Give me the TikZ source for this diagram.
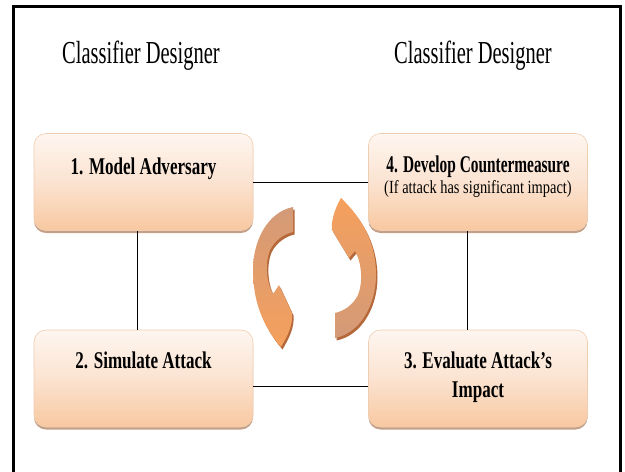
\documentclass[tikz,border=0pt]{standalone}
\usepackage{fontspec}
\setmainfont{Liberation Serif}

\definecolor{boxtop}{HTML}{FEF6F0}
\definecolor{boxmid}{HTML}{FBE3D1}
\definecolor{boxbot}{HTML}{F8C8A0}
\definecolor{boxline}{HTML}{EFCDB0}
\definecolor{boxshadow}{HTML}{C4A088}
\definecolor{arrowback}{HTML}{D39A78}
\definecolor{arrowfront}{HTML}{F6A05C}
\definecolor{arrowedge}{HTML}{B5693A}

% horizontally condensed text
\newcommand\narrow[2]{\scalebox{#1}[1]{#2}}

% the two curved cycle arrows
\def\arrowLpath{(293,207) .. controls (268,212) and (253,240) .. (253,270)
  .. controls (253,300) and (262,325) .. (281,347)
  .. controls (288,335) and (293,325) .. (292,313) -- (279,285) -- (273,294)
  .. controls (266,282) and (265,262) .. (270,250)
  .. controls (275,240) and (284,234) .. (293,232) -- cycle}
\def\arrowRpath{(335,338) .. controls (360,333) and (376,305) .. (376,275)
  .. controls (376,245) and (364,220) .. (341,198)
  .. controls (334,210) and (331,222) .. (332,230) -- (349,258) -- (355,251)
  .. controls (362,263) and (363,283) .. (358,295)
  .. controls (353,305) and (344,311) .. (335,313) -- cycle}

\begin{document}
\begin{tikzpicture}[x=1pt,y=-1pt,
  stepbox/.style={draw=boxline, line width=0.6pt, rounded corners=12pt,
    minimum width=219pt, minimum height=97pt, inner sep=0pt,
    top color=boxtop, bottom color=boxbot, middle color=boxmid,
    preaction={fill=boxshadow, transform canvas={yshift=-2.5pt}}},
  heading/.style={anchor=base, inner sep=0pt, font=\fontsize{32}{38}\selectfont},
  steptext/.style={anchor=base, inner sep=0pt, font=\fontsize{24}{29}\selectfont\bfseries},
  notetext/.style={anchor=base, inner sep=0pt, font=\fontsize{18.5}{22}\selectfont},
  link/.style={draw=black, line width=1pt}]

\useasboundingbox (0,0) rectangle (625,472);

% outer frame (open at the bottom edge of the page)
\draw[line width=3pt] (13,475) -- (13,6) -- (620,6) -- (620,475);

% column headings
\node[heading] (h1) at (141,63) {\narrow{0.64}{Classifier Designer}};
\node[heading] (h2) at (473,63) {\narrow{0.64}{Classifier Designer}};

% step boxes
\node[stepbox] (b1) at (143.5,182) {};
\node[stepbox] (b4) at (478,182) {};
\node[stepbox] (b2) at (143.5,378.5) {};
\node[stepbox] (b3) at (478,378.5) {};

% connectors
\draw[link] (b1.east) -- (b4.west);
\draw[link] ([xshift=-6.5pt]b1.south) -- ([xshift=-6.5pt]b2.north);
\draw[link] ([xshift=-11pt]b4.south) -- ([xshift=-11pt]b3.north);
\draw[link] ([yshift=-8pt]b2.east) -- ([yshift=-8pt]b3.west);

% step labels
\node[steptext] (t1) at (143.5,174) {\narrow{0.71}{1. Model Adversary}};
\node[steptext] (t4) at (478,172) {\narrow{0.64}{4. Develop Countermeasure}};
\node[notetext] (n4) at (478,193) {\narrow{0.78}{(If attack has significant impact)}};
\node[steptext] (t2) at (143.5,368) {\narrow{0.71}{2. Simulate Attack}};
\node[steptext] (t3a) at (478,368) {\narrow{0.71}{3. Evaluate Attack’s}};
\node[steptext] (t3b) at (478,397) {\narrow{0.71}{Impact}};

% cycle arrows
\fill[arrowedge, shift={(1.5,2.5)}] \arrowLpath;
\shade[top color=arrowback, bottom color=arrowfront] \arrowLpath;
\fill[arrowedge, shift={(1.5,2.5)}] \arrowRpath;
\shade[top color=arrowfront, bottom color=arrowback] \arrowRpath;

\end{tikzpicture}
\end{document}
